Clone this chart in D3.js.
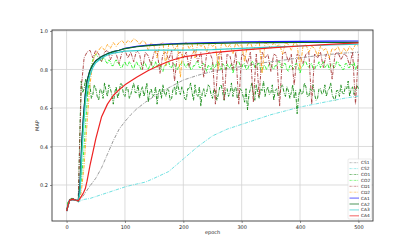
<!DOCTYPE html>
<html><head><meta charset="utf-8">
<script src="https://cdn.jsdelivr.net/npm/d3@7"></script>
<style>body{margin:0;background:#fff}svg{display:block}</style>
</head><body>
<svg id="c" width="415" height="249"></svg>
<script>
// ---- data ----
const xTicks = [0, 100, 200, 300, 400, 500];
const yTicks = [0.2, 0.4, 0.6, 0.8, 1.0];
const legendLabels = ["CS1","CS2","CO1","CO2","CD1","CD2","CA1","CA2","CA3","CA4"];

// noisy series
const epochs = d3.range(0, 505, 5);      // every 5 epochs
const epochs2 = d3.range(0, 502.5, 2.5); // every 2.5 epochs
const CO1 = [0.065,0.11,0.125,0.13,0.13,0.128,0.125,0.122,0.115,0.45,0.74,0.68,0.70,0.75,0.66,0.71,0.72,0.65,0.67,0.72,
0.70,0.66,0.64,0.70,0.69,0.65,0.73,0.69,0.66,0.72,0.70,0.67,0.62,0.68,0.71,0.65,0.68,0.73,0.72,0.67,
0.66,0.71,0.70,0.65,0.67,0.70,0.73,0.68,0.68,0.72,0.65,0.69,0.71,0.66,0.69,0.73,0.63,0.68,0.70,0.66,
0.67,0.71,0.62,0.68,0.70,0.65,0.72,0.68,0.66,0.70,0.69,0.64,0.65,0.70,0.71,0.67,0.74,0.69,0.67,0.71,
0.69,0.65,0.64,0.70,0.70,0.73,0.68,0.64,0.72,0.67,0.66,0.71,0.61,0.68,0.70,0.66,0.68,0.72,0.71,0.67,
0.65,0.70,0.69,0.64,0.67,0.71,0.72,0.68,0.64,0.69,0.70,0.66,0.68,0.73,0.66,0.70,0.71,0.65,0.67,0.70,
0.69,0.66,0.63,0.70,0.59,0.67,0.70,0.73,0.67,0.64,0.72,0.68,0.65,0.70,0.69,0.74,0.66,0.69,0.71,0.67,
0.68,0.72,0.64,0.69,0.70,0.66,0.67,0.71,0.72,0.68,0.66,0.71,0.69,0.65,0.68,0.72,0.65,0.69,0.57,0.66,
0.70,0.67,0.68,0.73,0.71,0.66,0.66,0.70,0.69,0.72,0.67,0.64,0.65,0.70,0.70,0.67,0.68,0.72,0.66,0.69,
0.70,0.73,0.67,0.65,0.64,0.69,0.69,0.66,0.72,0.68,0.67,0.71,0.70,0.74,0.66,0.70,0.71,0.67,0.69,0.72,
0.70];
const CO2 = [0.065,0.11,0.125,0.13,0.13,0.128,0.125,0.122,0.12,0.15,0.22,0.30,0.40,0.52,0.62,0.71,0.78,0.82,0.85,0.87,
0.88,0.87,0.86,0.85,0.84,0.86,0.86,0.84,0.83,0.85,0.84,0.82,0.82,0.84,0.85,0.83,0.83,0.81,0.81,0.83,
0.84,0.82,0.82,0.84,0.83,0.81,0.80,0.83,0.84,0.82,0.82,0.80,0.81,0.84,0.83,0.81,0.80,0.82,0.84,0.81,
0.82,0.84,0.81,0.83,0.83,0.80,0.79,0.82,0.82,0.84,0.84,0.81,0.81,0.83,0.83,0.80,0.80,0.82,0.82,0.84,
0.84,0.82,0.81,0.83,0.83,0.80,0.80,0.82,0.82,0.84,0.84,0.81,0.81,0.83,0.83,0.81,0.79,0.82,0.82,0.80,
0.83,0.81,0.81,0.84,0.84,0.82,0.80,0.83,0.82,0.80,0.83,0.81,0.81,0.83,0.78,0.81,0.82,0.84,0.84,0.82,
0.81,0.83,0.83,0.80,0.80,0.82,0.82,0.84,0.84,0.81,0.81,0.83,0.83,0.80,0.79,0.82,0.82,0.80,0.81,0.83,
0.83,0.81,0.80,0.82,0.82,0.84,0.84,0.81,0.81,0.83,0.83,0.80,0.79,0.82,0.82,0.80,0.81,0.83,0.83,0.81,
0.78,0.81,0.82,0.84,0.84,0.82,0.81,0.83,0.83,0.80,0.80,0.82,0.82,0.84,0.81,0.83,0.84,0.81,0.82,0.83,
0.80,0.82,0.83,0.81,0.81,0.84,0.84,0.82,0.82,0.80,0.80,0.83,0.83,0.81,0.81,0.83,0.82,0.84,0.80,0.82,
0.82];
const CD1 = [0.065,0.125,0.13,0.125,0.115,0.70,0.86,0.89,0.90,0.86,0.90,0.88,0.84,0.89,0.90,0.85,0.89,0.88,0.83,0.89,
0.90,0.86,0.89,0.84,0.90,0.88,0.80,0.89,0.87,0.82,0.89,0.90,0.78,0.88,0.89,0.85,0.90,0.74,0.88,0.89,
0.86,0.89,0.81,0.88,0.90,0.84,0.89,0.76,0.88,0.89,0.85,0.62,0.88,0.89,0.64,0.88,0.87,0.80,0.89,0.62,
0.88,0.87,0.83,0.89,0.63,0.88,0.66,0.89,0.86,0.88,0.79,0.88,0.87,0.61,0.88,0.89,0.84,0.88,0.72,0.88,
0.87,0.83,0.88,0.89,0.62,0.88,0.86,0.89,0.81,0.88,0.87,0.75,0.88,0.89,0.85,0.88,0.87,0.82,0.89,0.62,0.88];
const CD2 = [0.065,0.12,0.125,0.12,0.115,0.16,0.30,0.52,0.72,0.84,0.88,0.90,0.92,0.90,0.93,0.91,0.94,0.92,0.94,0.95,
0.93,0.95,0.94,0.96,0.95,0.93,0.95,0.94,0.90,0.94,0.92,0.86,0.93,0.94,0.82,0.93,0.94,0.90,0.93,0.76,
0.93,0.94,0.91,0.93,0.86,0.94,0.92,0.93,0.89,0.94,0.92,0.93,0.80,0.93,0.94,0.91,0.93,0.88,0.94,0.92,
0.93,0.84,0.93,0.94,0.90,0.93,0.95,0.78,0.94,0.93,0.91,0.94,0.92,0.93,0.88,0.94,0.93,0.90,0.94,0.93,
0.80,0.92,0.93,0.89,0.92,0.91,0.87,0.92,0.90,0.91,0.86,0.91,0.90,0.92,0.88,0.91,0.89,0.92,0.90,0.93,0.92];

// smooth series
const csEpochs = [0,5,10,15,20,25,30,40,50,60,70,80,90,100,110,120,135,150,175,200,225,250,275,300,325,350,375,400,425,450,475,500];
const CS1 = [0.065,0.12,0.125,0.122,0.115,0.13,0.15,0.195,0.235,0.29,0.36,0.43,0.49,0.53,0.565,0.595,0.63,0.66,0.705,0.745,0.77,0.79,0.805,0.815,0.83,0.84,0.85,0.86,0.87,0.878,0.885,0.89];
const CS2 = [0.065,0.12,0.125,0.122,0.11,0.12,0.125,0.13,0.14,0.15,0.16,0.17,0.18,0.19,0.198,0.205,0.215,0.235,0.27,0.335,0.40,0.455,0.49,0.515,0.54,0.565,0.585,0.605,0.62,0.635,0.65,0.662];

const caEpochs = [0,5,10,15,20,23,26,29,32,35,40,45,50,60,70,80,90,100,120,140,160,180,200,250,300,350,400,450,500];
const CA1 = [0.065,0.12,0.125,0.122,0.118,0.20,0.42,0.56,0.67,0.74,0.795,0.825,0.845,0.867,0.882,0.893,0.90,0.91,0.92,0.926,0.93,0.933,0.936,0.94,0.943,0.945,0.946,0.947,0.948];
const CA2 = [0.065,0.12,0.125,0.122,0.118,0.20,0.42,0.56,0.67,0.74,0.795,0.825,0.845,0.867,0.882,0.893,0.90,0.908,0.918,0.924,0.928,0.931,0.933,0.936,0.938,0.939,0.94,0.94,0.941];
const CA3 = [0.065,0.12,0.125,0.122,0.118,0.16,0.35,0.50,0.62,0.70,0.77,0.81,0.835,0.86,0.875,0.885,0.89,0.895,0.898,0.90,0.90,0.90,0.90,0.903,0.91,0.916,0.922,0.927,0.932];
const CA4 = [0.065,0.12,0.125,0.122,0.118,0.13,0.145,0.16,0.18,0.22,0.30,0.37,0.44,0.555,0.62,0.665,0.695,0.72,0.76,0.795,0.823,0.848,0.865,0.887,0.90,0.912,0.922,0.93,0.938];

// ---- chart ----
const svg = d3.select("#c");
const L = 52, R = 373, T = 30, B = 221;
const x = d3.scaleLinear().domain([-25, 525]).range([L, R]);
const y = d3.scaleLinear().domain([0.013, 1.005]).range([B, T]);

svg.append("rect").attr("width",415).attr("height",249).attr("fill","#fff");

// grid
const g = svg.append("g");
g.selectAll(".gx").data(xTicks).enter().append("line")
  .attr("x1", d=>x(d)).attr("x2", d=>x(d)).attr("y1", T).attr("y2", B)
  .attr("stroke","#d3d3d3").attr("stroke-width",0.8);
g.selectAll(".gy").data(yTicks).enter().append("line")
  .attr("y1", d=>y(d)).attr("y2", d=>y(d)).attr("x1", L).attr("x2", R)
  .attr("stroke","#d3d3d3").attr("stroke-width",0.8);

const series = [
  {name:"CS1", xs:csEpochs, ys:CS1, color:"#808080", dash:true, w:0.8},
  {name:"CS2", xs:csEpochs, ys:CS2, color:"#4dd9d9", dash:true, w:0.8},
  {name:"CO1", xs:epochs2, ys:CO1, color:"#118811", dash:true, w:0.9},
  {name:"CO2", xs:epochs2, ys:CO2, color:"#22ee22", dash:true, w:0.9},
  {name:"CD1", xs:epochs, ys:CD1, color:"#a83a3a", dash:true, w:0.9},
  {name:"CD2", xs:epochs, ys:CD2, color:"#ffa51f", dash:true, w:0.9},
  {name:"CA1", xs:caEpochs, ys:CA1, color:"#1a1aff", dash:false, w:1.2},
  {name:"CA2", xs:caEpochs, ys:CA2, color:"#0a6e1e", dash:false, w:1.2},
  {name:"CA3", xs:caEpochs, ys:CA3, color:"#35cccc", dash:false, w:1.2},
  {name:"CA4", xs:caEpochs, ys:CA4, color:"#ee2222", dash:false, w:1.2}
];
const line = d3.line().x(d=>x(d[0])).y(d=>y(d[1]));
const plot = svg.append("g");
series.forEach(s => {
  plot.append("path")
    .datum(s.xs.map((e,i)=>[e, s.ys[i]]))
    .attr("d", line).attr("fill","none")
    .attr("stroke", s.color).attr("stroke-width", s.w)
    .attr("stroke-dasharray", s.dash ? "3.5,1.2,0.8,1.2" : null)
    .attr("stroke-linejoin","round");
});

// frame
svg.append("rect").attr("x",L).attr("y",T).attr("width",R-L).attr("height",B-T)
  .attr("fill","none").attr("stroke","#3a3a3a").attr("stroke-width",0.9);

// axes
const xa = svg.append("g").attr("transform",`translate(0,${B})`)
  .call(d3.axisBottom(x).tickValues(xTicks).tickSize(2).tickPadding(2).tickFormat(d3.format("d")));
const ya = svg.append("g").attr("transform",`translate(${L},0)`)
  .call(d3.axisLeft(y).tickValues(yTicks).tickSize(2).tickPadding(2).tickFormat(d3.format(".1f")));
[xa, ya].forEach(a => {
  a.select(".domain").remove();
  a.selectAll(".tick line").attr("stroke","#444").attr("stroke-width",0.6);
  a.selectAll("text").attr("font-family","DejaVu Sans").attr("font-size","5px").attr("fill","#222");
});

svg.append("text").attr("x",(L+R)/2).attr("y",234).attr("text-anchor","middle")
  .attr("font-family","DejaVu Sans").attr("font-size","5px").attr("fill","#222").text("epoch");
svg.append("text").attr("transform",`translate(39,${(T+B)/2}) rotate(-90)`).attr("text-anchor","middle")
  .attr("font-family","DejaVu Sans").attr("font-size","5px").attr("fill","#222").text("MAP");

// legend
const lg = svg.append("g");
lg.append("rect").attr("x",348).attr("y",159).attr("width",23.5).attr("height",60).attr("rx",1)
  .attr("fill","#fff").attr("fill-opacity",0.85).attr("stroke","#ddd").attr("stroke-width",0.6);
legendLabels.forEach((name,i) => {
  const s = series.find(d=>d.name===name);
  const yy = 162.7 + i*5.9;
  lg.append("line").attr("x1",349.5).attr("x2",359).attr("y1",yy).attr("y2",yy)
    .attr("stroke", s.color).attr("stroke-opacity", 0.6).attr("stroke-width", s.dash ? 0.9 : 1.2)
    .attr("stroke-dasharray", s.dash ? "2.2,0.9,0.7,0.9" : null);
  lg.append("text").attr("x",361).attr("y",yy+1.5).attr("font-family","DejaVu Sans")
    .attr("font-size","4.3px").attr("fill","#222").text(name);
});
</script>
</body></html>
